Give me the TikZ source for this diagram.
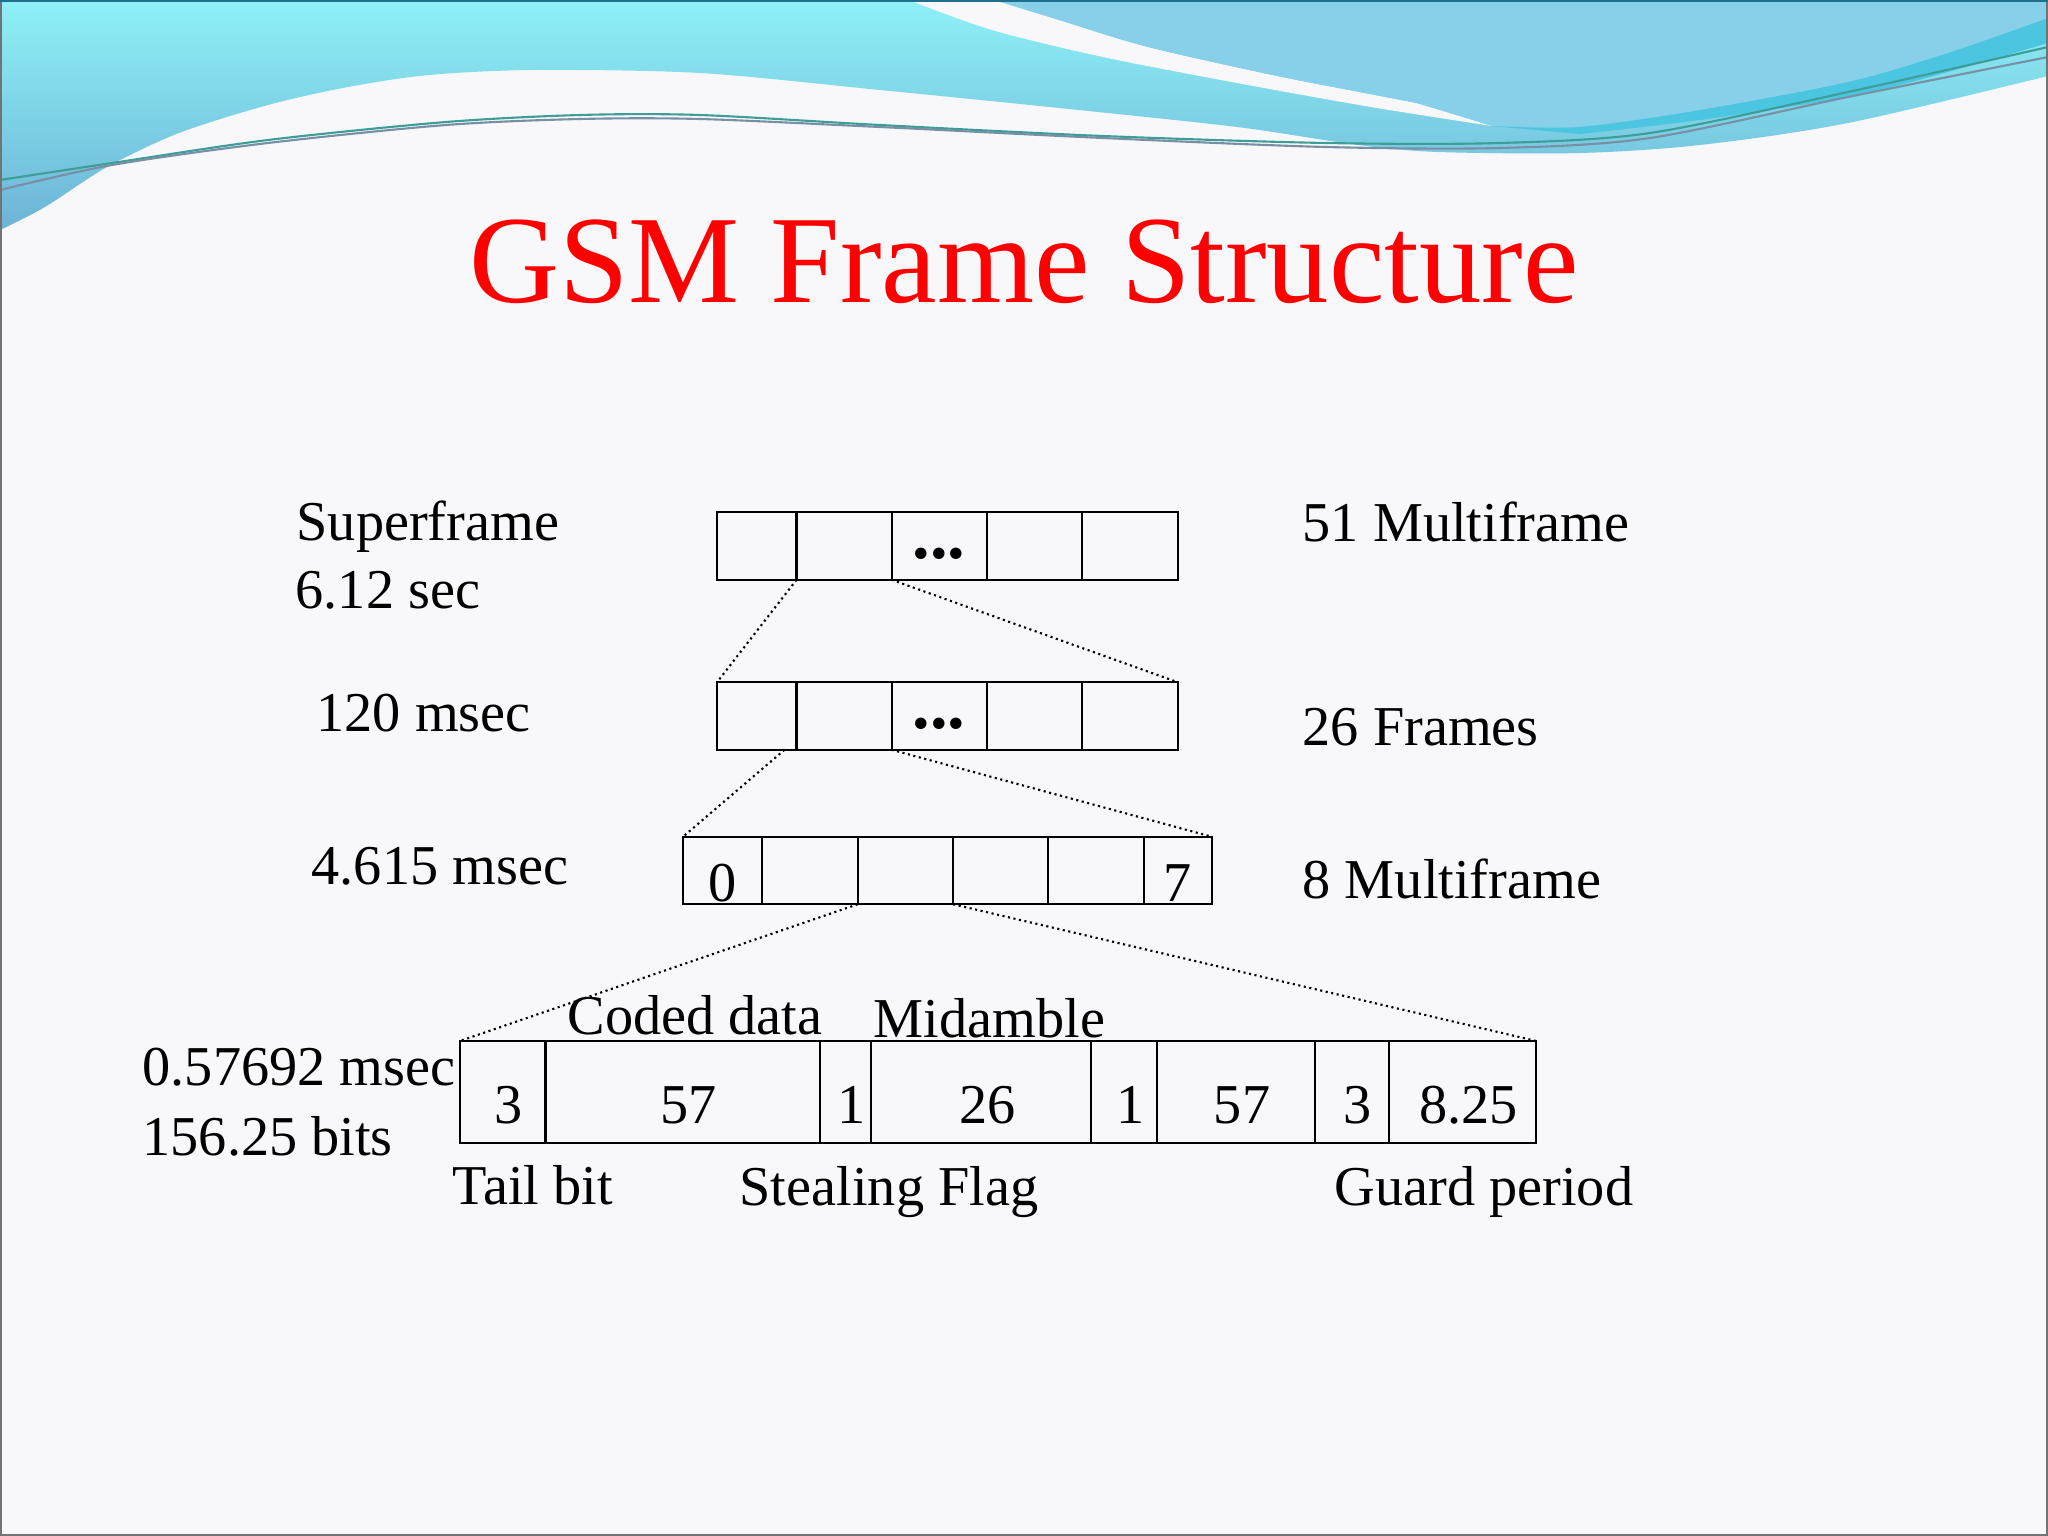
\documentclass[tikz,border=0pt]{standalone}
\usepackage{fontspec}
\setmainfont{Liberation Serif}
\usetikzlibrary{positioning}

\definecolor{slidebg}{HTML}{F8F8FA}
\definecolor{wavecyan}{HTML}{8EF1F6}
\definecolor{wavedeep}{HTML}{6DB3D6}
\definecolor{waveblue}{HTML}{88CFEA}
\definecolor{waveteal}{HTML}{4CC5E0}
\definecolor{linegreen}{HTML}{3D9E98}
\definecolor{linegray}{HTML}{7890A6}
\definecolor{edgeteal}{HTML}{1E6E8C}

\tikzset{
  cell/.style={draw,rectangle,line width=0.6pt,inner sep=0pt,outer sep=0pt,minimum height=0.675cm},
  dotcell/.style={cell,text height=0.24cm,text depth=0pt,font=\fontsize{20}{24}\selectfont\bfseries},
  slotcell/.style={cell,text height=0.61cm,text depth=0pt},
  bitcell/.style={cell,minimum height=1.02cm,text height=0.62cm,text depth=0pt,execute at begin node={\hspace*{3.5pt}}},
  txt/.style={anchor=base west,inner sep=0pt},
  zoomline/.style={densely dotted,line width=0.6pt},
}

\begin{document}
\begin{tikzpicture}[x=0.01cm,y=-0.01cm,node distance=0cm,font=\fontsize{16}{19}\selectfont]
\useasboundingbox (0,0) rectangle (2048,1536);
% slide background and waves
\fill[slidebg] (0,0) rectangle (2048,1536);
\shade[top color=wavecyan,bottom color=wavedeep] (0,0) -- (2048,0) -- plot[smooth] coordinates {(2048,76) (1848,123) (1700,145) (1580,153) (1438,152) (1358,145) (1237,127) (1059,108) (880,90) (700,73) (535,70) (429,75) (348,87) (268,105) (179,133) (107,167) (45,207) (0,230)} -- cycle;
\fill[slidebg] plot[smooth] coordinates {(909,0) (992,30) (1103,57) (1237,83) (1371,107) (1492,126)} -- plot[smooth] coordinates {(1416,103) (1282,77) (1148,47) (1059,20) (994,0)} -- cycle;
\fill[waveblue] plot[smooth] coordinates {(994,0) (1059,20) (1148,47) (1282,77) (1416,103) (1492,126)} -- plot[smooth] coordinates {(1580,127) (1700,110) (1848,82) (1948,53) (2048,18)} -- (2048,0) -- cycle;
\fill[waveteal] plot[smooth] coordinates {(1492,126) (1580,127) (1700,110) (1848,82) (1948,53) (2048,18)} -- plot[smooth] coordinates {(2048,43) (1948,72) (1848,97) (1700,120) (1580,134)} -- cycle;
\draw[linegreen,line width=0.6pt] plot[smooth] coordinates {(0,180) (112,163) (268,140) (446,122) (580,115) (700,115) (880,125) (1103,136) (1326,143) (1500,143) (1650,133) (1848,92) (2048,47)};
\draw[linegray,line width=0.6pt] plot[smooth] coordinates {(0,190) (112,165) (268,143) (446,125) (580,119) (700,119) (880,127) (1103,138) (1326,147) (1500,148) (1650,138) (1848,97) (2048,57)};
\draw[black!55,line width=0.6pt] (1,1) rectangle (2047,1535);
\draw[edgeteal,line width=0.8pt] (0,1) -- (2048,1);

\node[anchor=base,text=red,font=\fontsize{35.5}{40}\selectfont] (title) at (1024,302) {GSM Frame Structure};

% superframe
\node[cell,minimum width=0.795cm,anchor=west] (s1) at (717,546) {};
\node[cell,minimum width=0.95cm,right=of s1] (s2) {};
\node[dotcell,minimum width=0.95cm,right=of s2] (s3) {...};
\node[cell,minimum width=0.955cm,right=of s3] (s4) {};
\node[cell,minimum width=0.955cm,right=of s4] (s5) {};

% multiframe
\node[cell,minimum width=0.795cm,anchor=west] (m1) at (717,716) {};
\node[cell,minimum width=0.95cm,right=of m1] (m2) {};
\node[dotcell,minimum width=0.95cm,right=of m2] (m3) {...};
\node[cell,minimum width=0.955cm,right=of m3] (m4) {};
\node[cell,minimum width=0.955cm,right=of m4] (m5) {};

% frame
\node[slotcell,minimum width=0.79cm,anchor=west] (f1) at (683,870.5) {0};
\node[slotcell,minimum width=0.955cm,right=of f1] (f2) {};
\node[slotcell,minimum width=0.955cm,right=of f2] (f3) {};
\node[slotcell,minimum width=0.95cm,right=of f3] (f4) {};
\node[slotcell,minimum width=0.96cm,right=of f4] (f5) {};
\node[slotcell,minimum width=0.675cm,right=of f5] (f6) {7};

% burst
\node[bitcell,minimum width=0.854cm,anchor=west] (b1) at (460,1092) {3};
\node[bitcell,minimum width=2.744cm,right=of b1] (b2) {57};
\node[bitcell,minimum width=0.506cm,right=of b2] (b3) {1};
\node[bitcell,minimum width=2.206cm,right=of b3] (b4) {26};
\node[bitcell,minimum width=0.657cm,right=of b4] (b5) {1};
\node[bitcell,minimum width=1.574cm,right=of b5] (b6) {57};
\node[bitcell,minimum width=0.743cm,right=of b6] (b7) {3};
\node[bitcell,minimum width=1.471cm,right=of b7] (b8) {8.25};

\draw[zoomline] (s2.south west) -- (m1.north west);
\draw[zoomline] (s2.south east) -- (m5.north east);
\draw[zoomline] ([xshift=-1.2mm]m1.south east) -- (f1.north west);
\draw[zoomline] (m2.south east) -- (f6.north east);
\draw[zoomline] (f3.south west) -- (b1.north west);
\draw[zoomline] (f3.south east) -- (b8.north east);

% left labels
\node[txt] (sup) at (296,540) {Superframe};
\node[txt] (supt) at (295,608) {6.12 sec};
\node[txt] (mft) at (316,731) {120 msec};
\node[txt] (frt) at (311,884) {4.615 msec};
\node[txt] (bst) at (142,1085) {0.57692 msec};
\node[txt] (bsb) at (142,1155) {156.25 bits};
% right labels
\node[txt] (smf) at (1302,541) {51 Multiframe};
\node[txt] (nfr) at (1302,745) {26 Frames};
\node[txt] (nsl) at (1302,898) {8 Multiframe};
% burst fields
\node[txt] (cod) at (567,1034) {Coded data};
\node[txt] (mid) at (873,1037) {Midamble};
\node[txt] (tail) at (452,1204) {Tail bit};
\node[txt] (steal) at (739,1205) {Stealing Flag};
\node[txt] (guard) at (1334,1205) {Guard period};
\end{tikzpicture}
\end{document}
